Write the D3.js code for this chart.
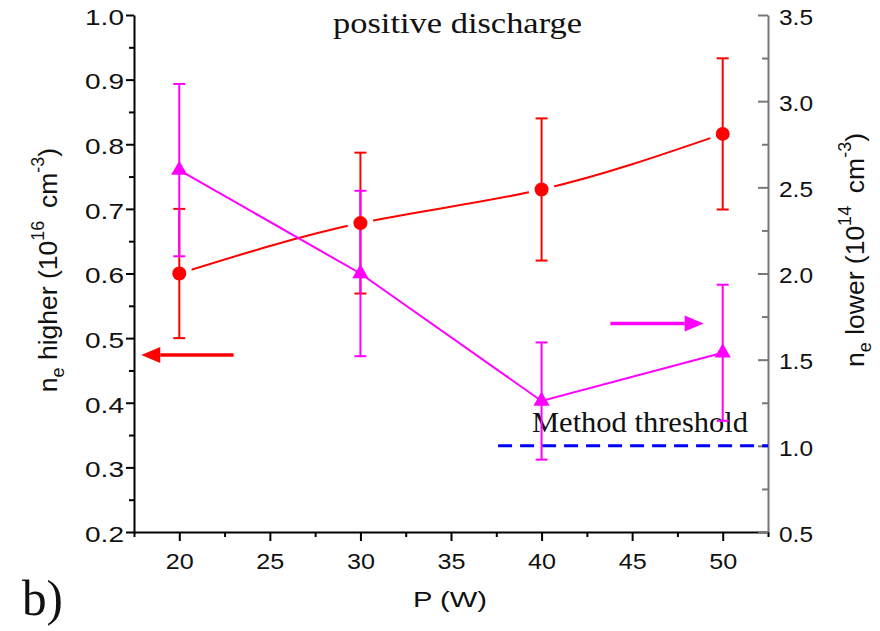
<!DOCTYPE html>
<html><head><meta charset="utf-8">
<script src="https://cdn.jsdelivr.net/npm/d3@7/dist/d3.min.js"></script>
<style>body{margin:0;background:#fff}</style>
</head><body><svg id="c" width="880" height="631" font-family="Liberation Sans, Arial, sans-serif"></svg>
<script>
// ---- data ----
const power = [20, 30, 40, 50];
const neHigher = [0.600, 0.678, 0.730, 0.816];
const neHigherErr = [0.100, 0.109, 0.110, 0.117];
const neLower = [2.60, 2.00, 1.26, 1.54];
const neLowerErr = [0.50, 0.48, 0.34, 0.395];
const thresholdValue = 1.0;
const thresholdRange = [37.6, 52.5];
const xTicks = [20, 25, 30, 35, 40, 45, 50];
const xMinor = [17.5, 22.5, 27.5, 32.5, 37.5, 42.5, 47.5, 52.5];
const leftTicks = [0.2, 0.3, 0.4, 0.5, 0.6, 0.7, 0.8, 0.9, 1.0];
const leftMinor = [0.25, 0.35, 0.45, 0.55, 0.65, 0.75, 0.85, 0.95];
const rightTicks = [0.5, 1.0, 1.5, 2.0, 2.5, 3.0, 3.5];
const rightMinor = [0.75, 1.25, 1.75, 2.25, 2.75, 3.25];
const redArrow = {from: [23.0, 0.474], to: [17.9, 0.474]};     // left axis units
const magArrow = {from: [43.8, 1.71], to: [48.95, 1.71]};      // right axis units

const RED = "#ff0000", MAG = "#ff00ff", BLUE = "#0000ff";
const SERIF = "Liberation Serif, Times New Roman, serif";
const svg = d3.select("#c");
const L = 134, R = 768, T = 15, B = 532;
const x = d3.scaleLinear().domain([17.5, 52.5]).range([L, R]);
const yL = d3.scaleLinear().domain([0.2, 1.0]).range([B, T]);
const yR = d3.scaleLinear().domain([0.5, 3.5]).range([B, T]);

function styleAxis(g, color, labelW) {
  g.selectAll("path.domain").attr("stroke", color).attr("stroke-width", 2);
  g.selectAll(".tick line").attr("stroke", color).attr("stroke-width", 2);
  g.selectAll(".tick text").attr("fill", "#111").attr("font-size", 22)
    .attr("font-family", "Liberation Sans, Arial, sans-serif")
    .attr("textLength", labelW).attr("lengthAdjust", "spacingAndGlyphs");
}

// minor ticks
svg.append("g").attr("transform", `translate(0,${B})`)
  .call(d3.axisBottom(x).tickValues(xMinor).tickSize(5).tickFormat(""))
  .call(g => { g.select(".domain").remove(); g.selectAll("line").attr("stroke", "#000").attr("stroke-width", 2); });
svg.append("g").attr("transform", `translate(${L},0)`)
  .call(d3.axisLeft(yL).tickValues(leftMinor).tickSize(5).tickFormat(""))
  .call(g => { g.select(".domain").remove(); g.selectAll("line").attr("stroke", "#000").attr("stroke-width", 2); });
svg.append("g").attr("transform", `translate(${R},0)`)
  .call(d3.axisRight(yR).tickValues(rightMinor).tickSize(-6).tickFormat(""))
  .call(g => { g.select(".domain").remove(); g.selectAll("line").attr("stroke", "#777").attr("stroke-width", 2); });

// major axes
const gx = svg.append("g").attr("transform", `translate(0,${B})`)
  .call(d3.axisBottom(x).tickValues(xTicks).tickSize(9).tickSizeOuter(0).tickPadding(12).tickFormat(d3.format("d")));
styleAxis(gx, "#000", 28);
const gl = svg.append("g").attr("transform", `translate(${L},0)`)
  .call(d3.axisLeft(yL).tickValues(leftTicks).tickSize(8).tickSizeOuter(0).tickPadding(2).tickFormat(d3.format(".1f")));
styleAxis(gl, "#000", 39);
gl.selectAll(".tick text").attr("dy", "0.42em");
const gr = svg.append("g").attr("transform", `translate(${R},0)`)
  .call(d3.axisRight(yR).tickValues(rightTicks).tickSize(-10).tickSizeOuter(0).tickPadding(11).tickFormat(d3.format(".1f")));
styleAxis(gr, "#777", 34);
gr.selectAll(".tick text").attr("dy", "0.42em");

// threshold line
svg.append("line")
  .attr("x1", x(thresholdRange[0])).attr("x2", x(thresholdRange[1]))
  .attr("y1", yR(thresholdValue)).attr("y2", yR(thresholdValue))
  .attr("stroke", BLUE).attr("stroke-width", 3).attr("stroke-dasharray", "14,8");

// texts
svg.append("text").attr("x", 457.5).attr("y", 33).attr("text-anchor", "middle")
  .attr("font-family", SERIF).attr("font-size", 29)
  .attr("textLength", 249).attr("lengthAdjust", "spacingAndGlyphs").attr("fill", "#111")
  .text("positive discharge");
svg.append("text").attr("x", 532).attr("y", 432)
  .attr("font-family", SERIF).attr("font-size", 30)
  .attr("textLength", 216).attr("lengthAdjust", "spacingAndGlyphs").attr("fill", "#111")
  .text("Method threshold");

// series data objects
const red = power.map((p, i) => ({p, v: neHigher[i], e: neHigherErr[i]}));
const mag = power.map((p, i) => ({p, v: neLower[i], e: neLowerErr[i]}));

// lines
svg.append("path").datum(red)
  .attr("d", d3.line().x(d => x(d.p)).y(d => yL(d.v)).curve(d3.curveNatural))
  .attr("fill", "none").attr("stroke", RED).attr("stroke-width", 2);
svg.append("path").datum(mag)
  .attr("d", d3.line().x(d => x(d.p)).y(d => yR(d.v)))
  .attr("fill", "none").attr("stroke", MAG).attr("stroke-width", 2);
// gaps around red markers
svg.append("g").selectAll("circle").data(red).join("circle")
  .attr("cx", d => x(d.p)).attr("cy", d => yL(d.v)).attr("r", 13).attr("fill", "#fff");

// error bars
function errBars(data, y, color) {
  const g = svg.append("g").attr("stroke", color).attr("stroke-width", 2);
  g.selectAll("line.v").data(data).join("line").attr("class", "v")
    .attr("x1", d => x(d.p)).attr("x2", d => x(d.p))
    .attr("y1", d => y(d.v - d.e)).attr("y2", d => y(d.v + d.e));
  g.selectAll("line.t").data(data).join("line").attr("class", "t")
    .attr("x1", d => x(d.p) - 6).attr("x2", d => x(d.p) + 6)
    .attr("y1", d => y(d.v + d.e)).attr("y2", d => y(d.v + d.e));
  g.selectAll("line.b").data(data).join("line").attr("class", "b")
    .attr("x1", d => x(d.p) - 6).attr("x2", d => x(d.p) + 6)
    .attr("y1", d => y(d.v - d.e)).attr("y2", d => y(d.v - d.e));
}
errBars(red, yL, RED);
errBars(mag, yR, MAG);

// markers
svg.append("g").selectAll("circle").data(red).join("circle")
  .attr("cx", d => x(d.p)).attr("cy", d => yL(d.v)).attr("r", 7).attr("fill", RED);
svg.append("g").selectAll("path").data(mag).join("path")
  .attr("transform", d => `translate(${x(d.p)},${yR(d.v)})`)
  .attr("d", d3.symbol(d3.symbolTriangle, 115)).attr("fill", MAG);

// arrows
function arrow(a, y, color) {
  const x1 = x(a.from[0]), x2 = x(a.to[0]), yy = y(a.from[1]);
  const dir = Math.sign(x2 - x1), head = 19, hw = 8;
  svg.append("line").attr("x1", x1).attr("x2", x2 - dir * head).attr("y1", yy).attr("y2", yy)
    .attr("stroke", color).attr("stroke-width", 3.5);
  svg.append("path").attr("d", `M${x2},${yy}L${x2 - dir * head},${yy - hw}L${x2 - dir * head},${yy + hw}Z`)
    .attr("fill", color);
}
arrow(redArrow, yL, RED);
arrow(magArrow, yR, MAG);

// axis titles
svg.append("text").attr("x", 450).attr("y", 607).attr("text-anchor", "middle")
  .attr("font-size", 22).attr("textLength", 74).attr("lengthAdjust", "spacingAndGlyphs").attr("fill", "#111")
  .text("P (W)");
svg.append("text").attr("x", 22).attr("y", 615)
  .attr("font-family", SERIF).attr("font-size", 50)
  .attr("textLength", 41).attr("lengthAdjust", "spacingAndGlyphs").attr("fill", "#111")
  .text("b)");

function yTitle(cx, cy, word, exp) {
  const t = svg.append("text").attr("transform", `translate(${cx},${cy}) rotate(-90)`)
    .attr("text-anchor", "middle").attr("font-size", 26.5).attr("fill", "#111");
  t.append("tspan").text("n");
  t.append("tspan").attr("font-size", 18).attr("dy", 7).text("e");
  t.append("tspan").attr("dy", -7).text(` ${word} (10`);
  t.append("tspan").attr("font-size", 18).attr("dy", -13).text(exp);
  t.append("tspan").attr("dy", 13).text("\u2009 cm");
  t.append("tspan").attr("font-size", 18).attr("dy", -13).text("-3");
  t.append("tspan").attr("dy", 13).text(")");
}
yTitle(57, 270, "higher", "16");
yTitle(864, 250, "lower", "14");
</script></body></html>
